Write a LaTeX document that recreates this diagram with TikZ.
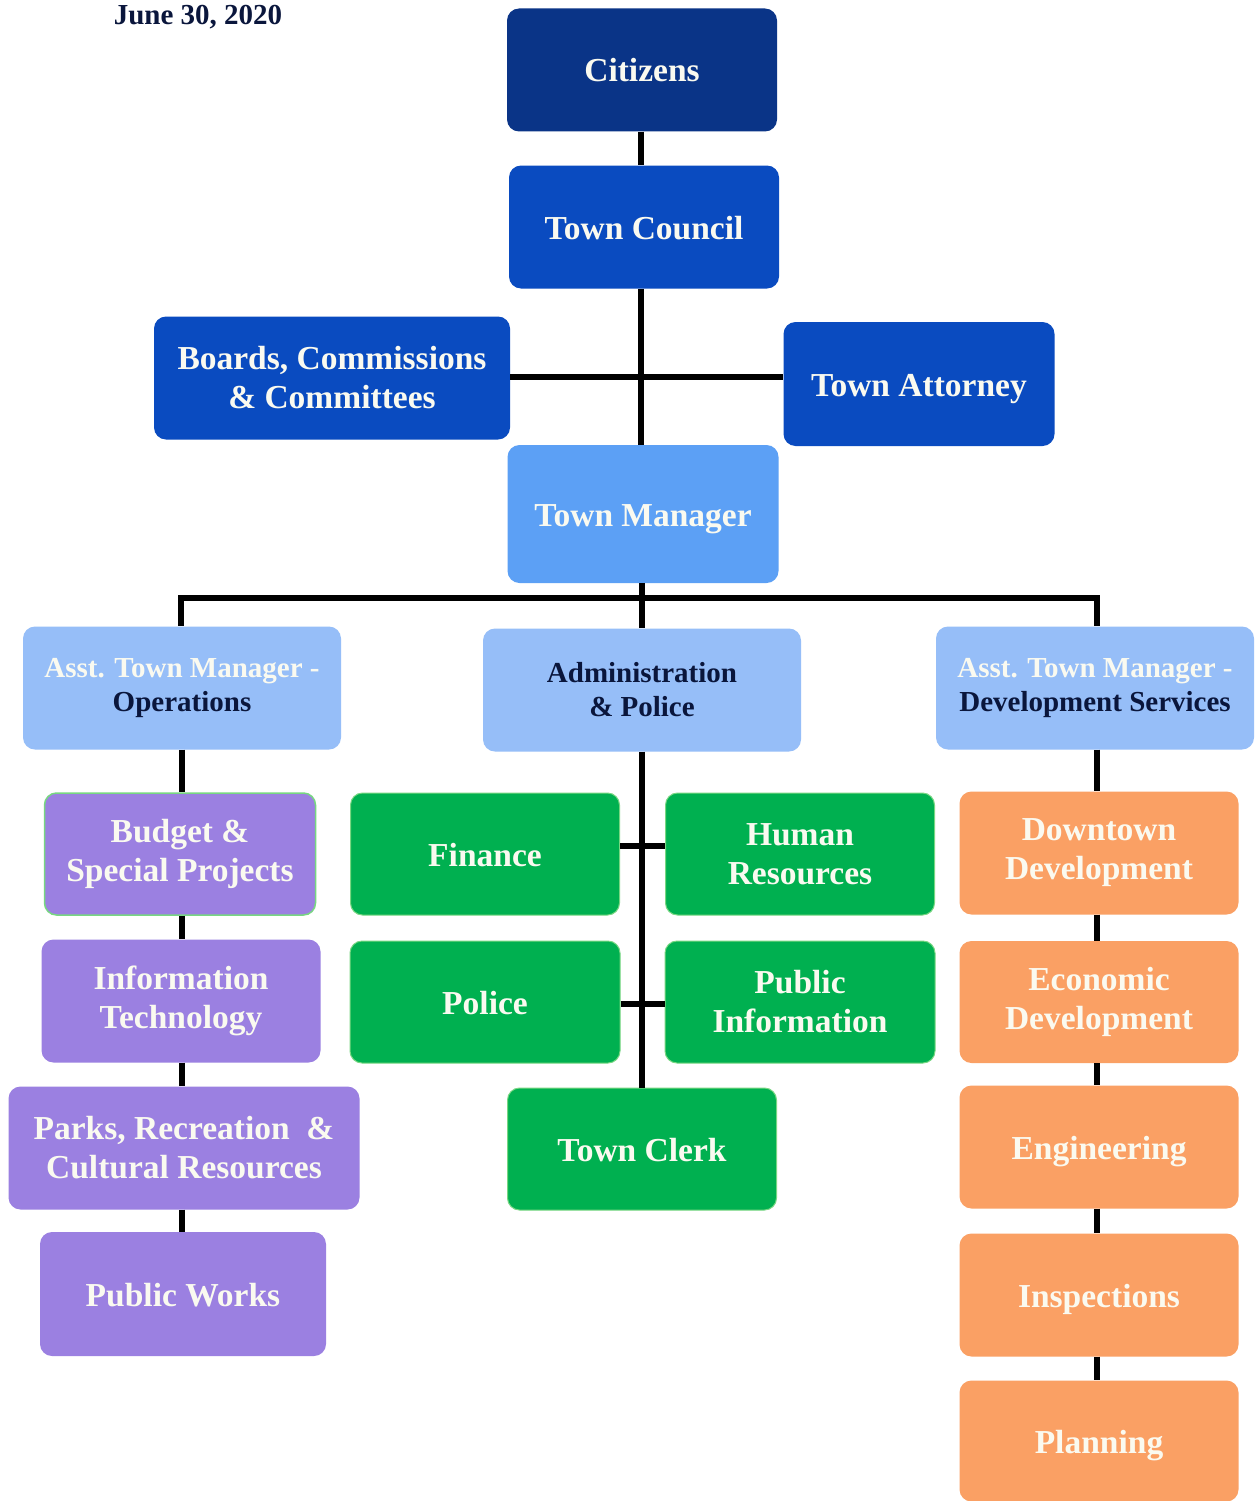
\documentclass[tikz,border=0pt]{standalone}
\usepackage{fontspec}
\setmainfont{Liberation Serif}
\definecolor{navy}{RGB}{10,52,135}
\definecolor{royal}{RGB}{10,75,192}
\definecolor{mgr}{RGB}{92,160,245}
\definecolor{asst}{RGB}{150,190,248}
\definecolor{purp}{RGB}{155,128,225}
\definecolor{grn}{RGB}{0,176,80}
\definecolor{grnb}{RGB}{120,215,130}
\definecolor{orng}{RGB}{250,160,100}
\definecolor{cream}{RGB}{250,250,240}
\definecolor{dtext}{RGB}{10,22,60}
\tikzset{
  box/.style={rounded corners=12pt, align=center, text=cream, inner sep=0pt,
    font=\fontsize{33.5}{39}\selectfont\bfseries},
  oneline/.style={text height=24pt, text depth=0pt},
  smalltxt/.style={font=\fontsize{29}{34}\selectfont\bfseries},
  conn/.style={line width=6pt, black}
}
\begin{document}
\begin{tikzpicture}[x=1pt,y=-1pt]
\useasboundingbox (0,0) rectangle (1254,1501);
\fill[white] (0,0) rectangle (1254,1501);
\node[font=\fontsize{29}{30}\selectfont\bfseries, text=dtext] (date) at (198,17) {June 30, 2020};

% top chain
\node[box, oneline, fill=navy, minimum width=270pt, minimum height=123pt] (cit) at (642,70) {Citizens};
\node[box, oneline, fill=royal, minimum width=270pt, minimum height=123pt] (tc) at (644,227) {Town Council};
\node[box, fill=royal, minimum width=356pt, minimum height=123pt] (bcc) at (332,378) {Boards, Commissions\\\& Committees};
\node[box, oneline, fill=royal, minimum width=271pt, minimum height=124pt] (ta) at (919,384) {Town Attorney};
\node[box, oneline, fill=mgr, minimum width=271pt, minimum height=138pt] (tm) at (643,514) {Town Manager};

% second level
\node[box, smalltxt, fill=asst, minimum width=318pt, minimum height=123pt] (ops) at (182,688)
  {Asst. Town Manager -\\\textcolor{dtext}{Operations}};
\node[box, smalltxt, fill=asst, text=dtext, minimum width=318pt, minimum height=123pt] (adm) at (642,690)
  {Administration\\\& Police};
\node[box, smalltxt, fill=asst, minimum width=318pt, minimum height=123pt] (dev) at (1095,688)
  {Asst. Town Manager -\\\textcolor{dtext}{Development Services}};

% purple column
\node[box, fill=purp, draw=grnb, line width=1.5pt, minimum width=271pt, minimum height=122pt] (bud) at (180,854) {Budget \&\\Special Projects};
\node[box, fill=purp, minimum width=279pt, minimum height=123pt] (it) at (181,1001) {Information\\Technology};
\node[box, fill=purp, minimum width=351pt, minimum height=123pt] (prk) at (184,1148) {Parks, Recreation~~\&\\Cultural Resources};
\node[box, oneline, fill=purp, minimum width=286pt, minimum height=124pt] (pw) at (183,1294) {Public Works};

% green column
\node[box, oneline, fill=grn, draw=grnb, line width=1pt, minimum width=269pt, minimum height=122pt] (fin) at (485,854) {Finance};
\node[box, fill=grn, draw=grnb, line width=1pt, minimum width=269pt, minimum height=122pt] (hr) at (800,854) {Human\\Resources};
\node[box, oneline, fill=grn, draw=grnb, line width=1pt, minimum width=270pt, minimum height=122pt] (pol) at (485,1002) {Police};
\node[box, fill=grn, draw=grnb, line width=1pt, minimum width=270pt, minimum height=122pt] (pi) at (800,1002) {Public\\Information};
\node[box, oneline, fill=grn, draw=grnb, line width=1pt, minimum width=269pt, minimum height=122pt] (clk) at (642,1149) {Town Clerk};

% orange column
\node[box, fill=orng, minimum width=279pt, minimum height=123pt] (dd) at (1099,853) {Downtown\\Development};
\node[box, fill=orng, minimum width=279pt, minimum height=122pt] (ed) at (1099,1002) {Economic\\Development};
\node[box, oneline, fill=orng, minimum width=279pt, minimum height=123pt] (eng) at (1099,1147) {Engineering};
\node[box, oneline, fill=orng, minimum width=279pt, minimum height=123pt] (ins) at (1099,1295) {Inspections};
\node[box, oneline, fill=orng, minimum width=279pt, minimum height=121pt] (pln) at (1099,1441) {Planning};

% connectors
\coordinate (hl) at (181,598);
\coordinate (hr2) at (1097,598);
\coordinate (hb) at (641,377);
\draw[conn] (cit.south -| 641,0) -- (tc.north -| 641,0);
\draw[conn] (tc.south -| 641,0) -- (tm.north -| 641,0);
\draw[conn] (bcc.east |- hb) -- (ta.west |- hb);
\draw[conn] (tm.south -| 642,0) -- (adm.north -| 642,0);
\draw[conn, line cap=rect] (hl) -- (hr2);
\draw[conn] (hl) -- (ops.north -| hl);
\draw[conn] (hr2) -- (dev.north -| hr2);
\draw[conn] (adm.south -| 642,0) -- (clk.north -| 642,0);
\draw[conn] (fin.east |- 0,846) -- (hr.west |- 0,846);
\draw[conn] (pol.east |- 0,1004) -- (pi.west |- 0,1004);
\draw[conn] (ops.south -| 182,0) -- (bud.north -| 182,0);
\draw[conn] (bud.south -| 182,0) -- (it.north -| 182,0);
\draw[conn] (it.south -| 182,0) -- (prk.north -| 182,0);
\draw[conn] (prk.south -| 182,0) -- (pw.north -| 182,0);
\draw[conn] (dev.south -| 1097,0) -- (dd.north -| 1097,0);
\draw[conn] (dd.south -| 1097,0) -- (ed.north -| 1097,0);
\draw[conn] (ed.south -| 1097,0) -- (eng.north -| 1097,0);
\draw[conn] (eng.south -| 1097,0) -- (ins.north -| 1097,0);
\draw[conn] (ins.south -| 1097,0) -- (pln.north -| 1097,0);
\end{tikzpicture}
\end{document}
